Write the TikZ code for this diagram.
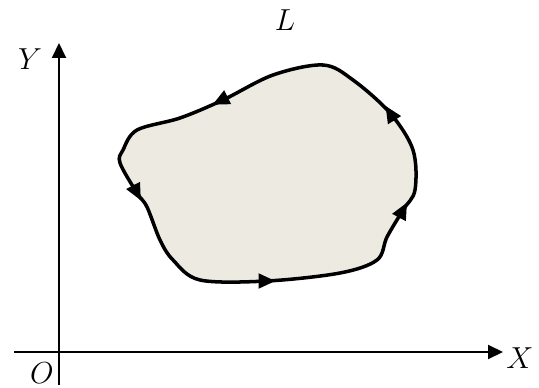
\documentclass[tikz,border=0pt]{standalone}
\usepackage{amsmath,amssymb}
\usetikzlibrary{positioning,calc,arrows.meta}
\definecolor{fondo}{HTML}{FFFFFF}
\definecolor{tinta}{HTML}{000000}
\definecolor{relleno}{HTML}{EDEBE1}

\begin{document}
\begin{tikzpicture}[font=\fontsize{18}{20}\selectfont, every node/.style={text=tinta},
  eje/.style={line width=1.1pt, -{Triangle[length=3mm,width=2.8mm]}},
  contorno/.style={line width=2pt, fill=relleno, line join=round},
  flecha/.style={line width=2pt, -{Triangle[length=3.4mm,width=2.9mm]}}]
\fill[fondo] (0,0) rectangle (10.78,7.74);
\useasboundingbox (0,0) rectangle (10.78,7.74);

% ================= ejes =================
\coordinate (yini) at (1.18,0.04);
\coordinate (yfin) at (1.18,6.88);
\coordinate (xini) at (0.28,0.70);
\coordinate (xfin) at (10.06,0.70);
\draw[eje] (yini) -- (yfin);
\draw[eje] (xini) -- (xfin);
\node (ly) at (0.60,6.56) {$Y$};
\node (lx) at (10.40,0.58) {$X$};
\node (lo) at (0.84,0.28) {$O$};

% ================= contorno L =================
\draw[contorno] plot[smooth cycle, tension=0.55] coordinates {
  (6.46,6.44) (5.46,6.24) (4.46,5.74) (3.60,5.38) (2.74,5.14)
  (2.46,4.74) (2.40,4.48) (2.74,3.88) (2.94,3.60) (3.20,2.94)
  (3.46,2.54) (4.00,2.14) (5.34,2.12) (6.80,2.28) (7.54,2.54)
  (7.74,3.00) (8.06,3.54) (8.30,3.94) (8.26,4.74) (7.80,5.48)
  (7.06,6.14)};
% sentido de recorrido
\foreach \x/\y/\a in {4.40/5.72/206.6, 2.74/3.88/-62.5, 5.34/2.12/0, 8.06/3.54/61.8, 7.80/5.48/122}
  \draw[flecha] (\x,\y) ++(\a+180:0.17) -- ++(\a:0.34);
\node (ll) at (5.70,7.34) {$L$};

\end{tikzpicture}
\end{document}
